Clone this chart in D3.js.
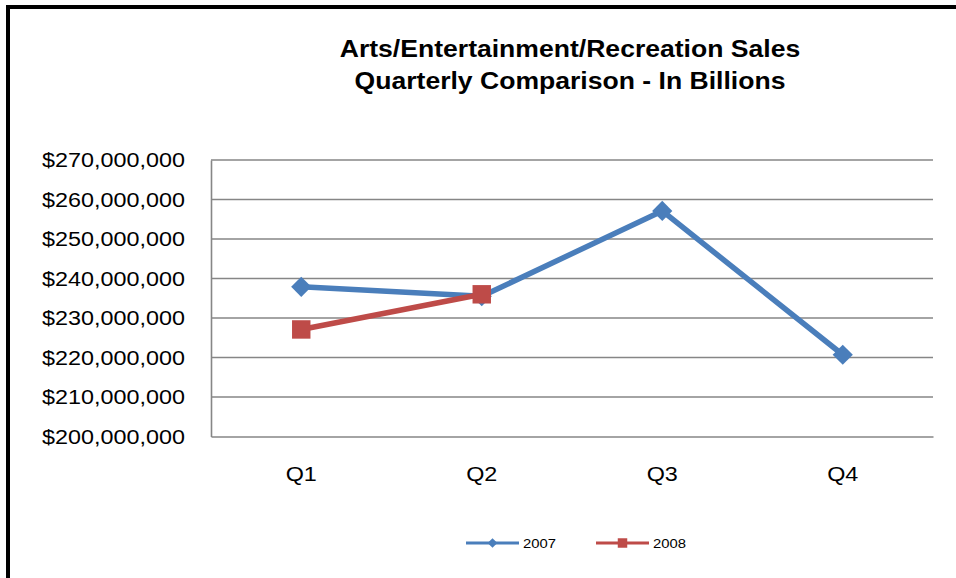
<!DOCTYPE html>
<html>
<head>
<meta charset="utf-8">
<script src="https://cdnjs.cloudflare.com/ajax/libs/d3/7.8.5/d3.min.js"></script>
<style>
  html, body { margin: 0; padding: 0; background: #fff; }
  svg { display: block; font-family: Arial, "Liberation Sans", sans-serif; }
</style>
</head>
<body>
<svg id="chart" width="956" height="578"></svg>
<script>
// Quarterly sales figures
const quarters = ["Q1", "Q2", "Q3", "Q4"];
const sales2007 = [237900000, 235500000, 257100000, 220700000];
const sales2008 = [227100000, 236000000];
const yTicks = [200000000, 210000000, 220000000, 230000000, 240000000, 250000000, 260000000, 270000000];
const titleLines = ["Arts/Entertainment/Recreation Sales", "Quarterly Comparison - In Billions"];
const seriesNames = ["2007", "2008"];

const colors = { "2007": "#4A7EBB", "2008": "#BE4B48" };
const stretch = 1.14; // horizontal text widening

const svg = d3.select("#chart");

// Outer frame (left and top edges)
svg.append("rect").attr("x", 0).attr("y", 0).attr("width", 956).attr("height", 578).attr("fill", "#fff");
svg.append("path")
  .attr("d", "M8,578 L8,7 L956,7")
  .attr("fill", "none").attr("stroke", "#000").attr("stroke-width", 4);

const plot = { left: 211, right: 933, top: 160, bottom: 436.5 };

const x = d3.scaleBand().domain(quarters).range([plot.left, plot.right]);
const y = d3.scaleLinear().domain([200000000, 270000000]).range([plot.bottom, plot.top]);

// Widen a text element horizontally by the stretch factor
function widen(sel) {
  sel.each(function () {
    const len = this.getComputedTextLength();
    d3.select(this).attr("textLength", len * stretch).attr("lengthAdjust", "spacingAndGlyphs");
  });
}

// Title
svg.selectAll("text.title").data(titleLines).join("text")
  .attr("class", "title")
  .attr("x", 570).attr("y", (d, i) => 56.5 + i * 32)
  .attr("text-anchor", "middle")
  .attr("font-size", 23.3).attr("font-weight", "bold").attr("fill", "#000")
  .text(d => d)
  .call(widen);

// Gridlines
svg.append("g").selectAll("line").data(yTicks.slice(1)).join("line")
  .attr("x1", plot.left).attr("x2", plot.right)
  .attr("y1", d => y(d)).attr("y2", d => y(d))
  .attr("stroke", "#868686").attr("stroke-width", 1.6);

// Y axis
const yAxis = svg.append("g").attr("transform", `translate(${plot.left},0)`)
  .call(d3.axisLeft(y).tickValues(yTicks).tickSize(0).tickPadding(26)
    .tickFormat(d => "$" + d3.format(",")(d)));
yAxis.select(".domain").attr("stroke", "#868686").attr("stroke-width", 1.6);
yAxis.selectAll("text").attr("font-size", 20.5).attr("fill", "#000")
  .attr("font-family", "Arial, 'Liberation Sans', sans-serif")
  .call(widen);

// X axis
const xAxis = svg.append("g").attr("transform", `translate(0,${plot.bottom})`)
  .call(d3.axisBottom(x).tickSize(0).tickPadding(30));
xAxis.select(".domain").attr("stroke", "#868686").attr("stroke-width", 1.6);
xAxis.selectAll("text").attr("font-size", 20.5).attr("fill", "#000")
  .attr("font-family", "Arial, 'Liberation Sans', sans-serif")
  .call(widen);

const cx = q => x(q) + x.bandwidth() / 2;
const line = d3.line().x(d => cx(d.q)).y(d => y(d.v));

const diamond = d3.symbol().type(d3.symbolDiamond2).size(260);
const square = d3.symbol().type(d3.symbolSquare).size(340);

const s2007 = sales2007.map((v, i) => ({ q: quarters[i], v }));
const s2008 = sales2008.map((v, i) => ({ q: quarters[i], v }));

// 2007 series
svg.append("path").datum(s2007).attr("d", line)
  .attr("fill", "none").attr("stroke", colors["2007"]).attr("stroke-width", 5.5).attr("stroke-linejoin", "round");
svg.append("g").selectAll("path").data(s2007).join("path")
  .attr("transform", d => `translate(${cx(d.q)},${y(d.v)})`)
  .attr("d", diamond).attr("fill", colors["2007"]);

// 2008 series
svg.append("path").datum(s2008).attr("d", line)
  .attr("fill", "none").attr("stroke", colors["2008"]).attr("stroke-width", 5.5).attr("stroke-linejoin", "round");
svg.append("g").selectAll("path").data(s2008).join("path")
  .attr("transform", d => `translate(${cx(d.q)},${y(d.v)})`)
  .attr("d", square).attr("fill", colors["2008"]);

// Legend
const legendX = [466, 596];
const legend = svg.append("g").selectAll("g").data(seriesNames).join("g")
  .attr("transform", (d, i) => `translate(${legendX[i]},543)`);
legend.append("line").attr("x1", 0).attr("x2", 53).attr("y1", 0).attr("y2", 0)
  .attr("stroke", d => colors[d]).attr("stroke-width", 3);
legend.append("path").attr("transform", "translate(26.5,0)")
  .attr("d", (d, i) => i === 0 ? d3.symbol().type(d3.symbolDiamond2).size(60)() : d3.symbol().type(d3.symbolSquare).size(90)())
  .attr("fill", d => colors[d]);
legend.append("text").attr("x", 57).attr("y", 4.5)
  .attr("font-size", 13).attr("fill", "#000").text(d => d)
  .call(widen);
</script>
</body>
</html>
